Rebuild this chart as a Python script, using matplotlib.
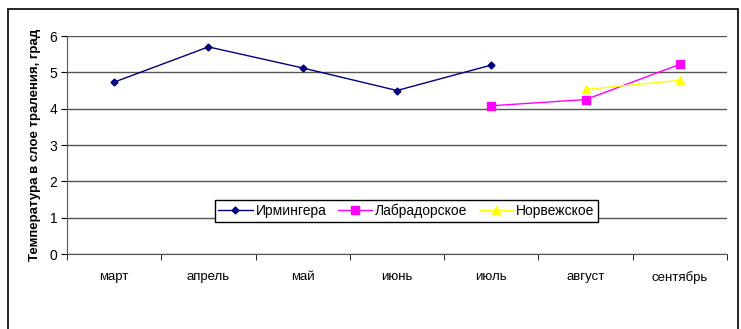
import matplotlib
matplotlib.use('Agg')
import matplotlib.pyplot as plt
from matplotlib.patches import Rectangle

plt.rcParams['font.family'] = ['Liberation Sans', 'DejaVu Sans']

months = ['март', 'апрель', 'май', 'июнь', 'июль', 'август', 'сентябрь']
irminger = [4.73, 5.70, 5.12, 4.50, 5.20]
labrador = [4.08, 4.25, 5.22]
norway = [4.53, 4.78]

fig = plt.figure(figsize=(7.41, 3.29), dpi=100)
# outer chart frame
fig.patches.append(Rectangle((8 / 741, -0.05), (730 / 741), 1 - 9 / 329 + 0.05,
                             transform=fig.transFigure, fill=False,
                             edgecolor='black', linewidth=1.2))
ax = fig.add_axes([67 / 741, 1 - 254 / 329, 660 / 741, 218 / 329])

x = list(range(len(months)))
ax.plot(x[0:5], irminger, color='#000080', marker='D', markersize=3.5,
        linewidth=1, label='Ирмингера')
ax.plot(x[4:7], labrador, color='#FF00FF', marker='s', markersize=6,
        linewidth=1, label='Лабрадорское')
ax.plot(x[5:7], norway, color='#FFFF00', marker='^', markersize=6,
        linewidth=1, label='Норвежское')

ax.set_xlim(-0.5, 6.5)
ax.set_ylim(0, 6)
ax.set_yticks(range(7))
ax.set_xticks(x)
ax.set_xticklabels(months, fontsize=9.5)
ax.set_xticks([i + 0.5 for i in range(-1, 7)], minor=True)
ax.tick_params(axis='x', which='major', length=0, pad=12)
ax.tick_params(axis='x', which='minor', length=4, direction='out', color='black')
ax.tick_params(axis='y', length=4, direction='out', labelsize=10, pad=3)
ax.grid(axis='y', color='#555555', linewidth=1)
ax.set_axisbelow(True)
for s in ['top', 'right']:
    ax.spines[s].set_visible(False)
ax.spines['left'].set_color('#555555')
ax.spines['bottom'].set_color('#555555')

ax.set_ylabel('Температура в слое траления, град', fontsize=9.5,
              fontweight='bold', labelpad=6)

leg = ax.legend(loc='center', bbox_to_anchor=(0.514, 0.197), ncol=3,
                fontsize=10, frameon=True, fancybox=False, edgecolor='black',
                handlelength=2.5, handletextpad=0.2, columnspacing=0.8,
                borderpad=0.25, borderaxespad=0, framealpha=1)
leg.get_frame().set_linewidth(1)

fig.savefig('out.png', dpi=100)
